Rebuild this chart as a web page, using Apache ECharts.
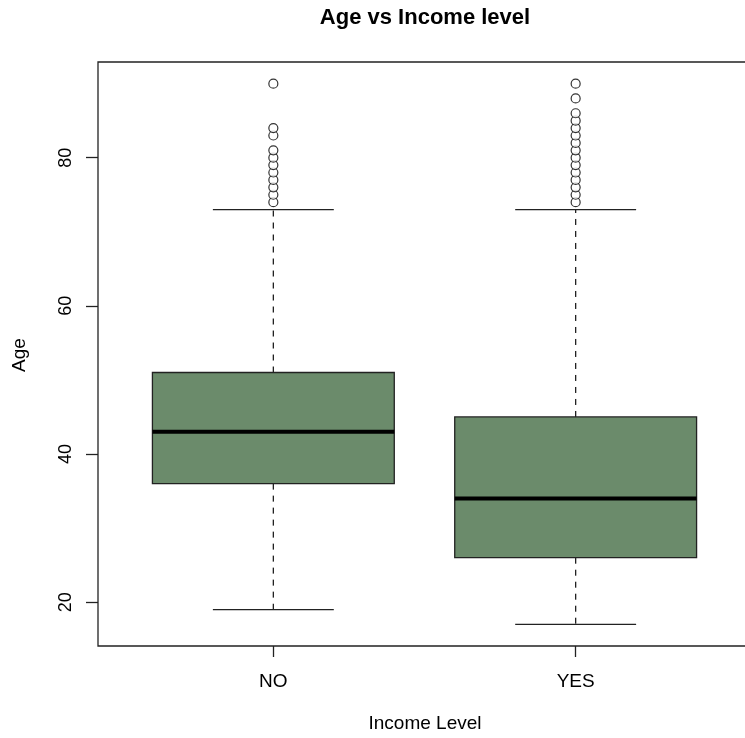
<!DOCTYPE html>
<html>
<head>
<meta charset="utf-8">
<title>Age vs Income level</title>
<script src="https://cdn.jsdelivr.net/npm/echarts@6/dist/echarts.min.js"></script>
<style>
  html, body { margin: 0; padding: 0; background: #ffffff; }
  #chart { width: 745px; height: 738px; }
</style>
</head>
<body>
<div id="chart"></div>
<script>
// Box-and-whisker summary of Age per income level
const categories = ['NO', 'YES'];
const lowerWhisker = [19, 17];
const q1 = [36, 26];
const median = [43, 34];
const q3 = [51, 45];
const upperWhisker = [73, 73];
const outliersNO = [74, 75, 76, 77, 78, 79, 80, 81, 83, 84, 90];
const outliersYES = [74, 75, 76, 77, 78, 79, 80, 81, 82, 83, 84, 85, 86, 88, 90];
const yTicks = [20, 40, 60, 80];

const FONT = '"Liberation Sans", Arial, Helvetica, sans-serif';
const BOX_FILL = '#6b8b6b';
const INK = '#222222';

// value range padded by 4% on each side
const allValues = lowerWhisker.concat(upperWhisker, outliersNO, outliersYES);
const vMin = Math.min.apply(null, allValues);
const vMax = Math.max.apply(null, allValues);
const pad = (vMax - vMin) * 0.04;
const yMin = vMin - pad;
const yMax = vMax + pad;
// category positions 1..n, range 0.5..n+0.5 padded by 4%
const xPad = categories.length * 0.04;
const xMin = 0.5 - xPad;
const xMax = categories.length + 0.5 + xPad;

const boxData = categories.map((c, i) => [i + 1, lowerWhisker[i], q1[i], median[i], q3[i], upperWhisker[i]]);
const outlierData = [];
outliersNO.forEach(v => outlierData.push([1, v]));
outliersYES.forEach(v => outlierData.push([2, v]));

const chart = echarts.init(document.getElementById('chart'), null, { renderer: 'canvas' });

function renderBox(params, api) {
  const x = api.value(0);
  const lo = api.value(1), b1 = api.value(2), med = api.value(3), b3 = api.value(4), hi = api.value(5);
  const half = 0.4, capHalf = 0.2;
  const p = (xx, yy) => api.coord([xx, yy]);
  const tl = p(x - half, b3), br = p(x + half, b1);
  const dashed = { stroke: INK, lineWidth: 1.3, lineDash: [6, 6], fill: null };
  const solid = { stroke: INK, lineWidth: 1.3, fill: null };
  const c = p(x, 0)[0];
  return {
    type: 'group',
    children: [
      { type: 'line', shape: { x1: c, y1: p(x, b3)[1], x2: c, y2: p(x, hi)[1] }, style: dashed },
      { type: 'line', shape: { x1: c, y1: p(x, b1)[1], x2: c, y2: p(x, lo)[1] }, style: dashed },
      { type: 'line', shape: { x1: p(x - capHalf, hi)[0], y1: p(x, hi)[1], x2: p(x + capHalf, hi)[0], y2: p(x, hi)[1] }, style: solid },
      { type: 'line', shape: { x1: p(x - capHalf, lo)[0], y1: p(x, lo)[1], x2: p(x + capHalf, lo)[0], y2: p(x, lo)[1] }, style: solid },
      { type: 'rect', shape: { x: tl[0], y: tl[1], width: br[0] - tl[0], height: br[1] - tl[1] },
        style: { fill: BOX_FILL, stroke: INK, lineWidth: 1.3 } },
      { type: 'line', shape: { x1: tl[0], y1: p(x, med)[1], x2: br[0], y2: p(x, med)[1] },
        style: { stroke: '#000000', lineWidth: 4, fill: null } }
    ]
  };
}

chart.setOption({
  animation: false,
  backgroundColor: '#ffffff',
  textStyle: { fontFamily: FONT },
  grid: {
    left: 98, top: 62, width: 653, height: 584,
    show: true, borderColor: INK, borderWidth: 1.3, backgroundColor: 'transparent',
    containLabel: false, outerBoundsMode: 'none'
  },
  xAxis: {
    type: 'value', min: xMin, max: xMax,
    splitLine: { show: false },
    axisLine: { show: false },
    axisTick: { show: true, length: 11, lineStyle: { color: INK, width: 1.3 }, customValues: categories.map((c, i) => i + 1) },
    axisLabel: {
      show: true, margin: 26, fontSize: 19, color: '#000', fontFamily: FONT,
      customValues: categories.map((c, i) => i + 1),
      formatter: v => categories[Math.round(v) - 1] || ''
    }
  },
  yAxis: {
    type: 'value', min: yMin, max: yMax,
    splitLine: { show: false },
    axisLine: { show: false },
    axisTick: { show: true, length: 12, lineStyle: { color: INK, width: 1.3 }, customValues: yTicks },
    axisLabel: {
      show: true, margin: 23, fontSize: 18, color: '#000', fontFamily: FONT, rotate: 90,
      customValues: yTicks, formatter: v => String(v)
    }
  },
  graphic: [
    { type: 'text', x: 425, y: 18, style: { text: 'Age vs Income level', font: 'bold 22px ' + FONT, fill: '#000', textAlign: 'center', textVerticalAlign: 'middle' } },
    { type: 'text', x: 425, y: 724, style: { text: 'Income Level', font: '19px ' + FONT, fill: '#000', textAlign: 'center', textVerticalAlign: 'middle' } },
    { type: 'text', x: 20, y: 355, rotation: Math.PI / 2, style: { text: 'Age', font: '19px ' + FONT, fill: '#000', textAlign: 'center', textVerticalAlign: 'middle' } }
  ],
  series: [
    {
      type: 'custom',
      renderItem: renderBox,
      data: boxData,
      encode: { x: 0, y: [1, 2, 3, 4, 5] },
      clip: false,
      z: 2
    },
    {
      type: 'scatter',
      data: outlierData,
      symbol: 'circle',
      symbolSize: 9,
      itemStyle: { color: '#ffffff', borderColor: '#000000', borderWidth: 1.2 },
      z: 3
    }
  ]
});
</script>
</body>
</html>
